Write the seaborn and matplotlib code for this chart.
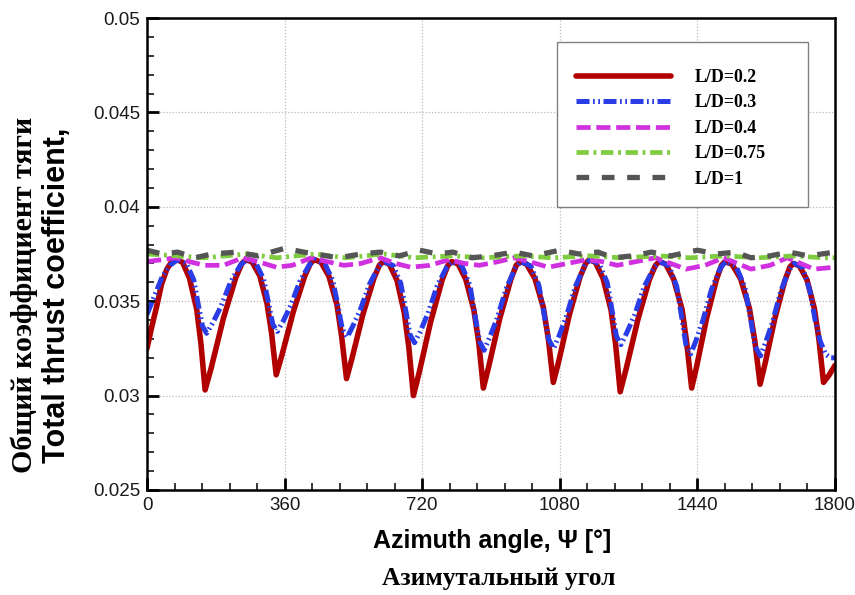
import numpy as np
import pandas as pd
import matplotlib
matplotlib.use("Agg")
import matplotlib.pyplot as plt
from matplotlib.patches import Rectangle
import seaborn as sns

x_02 = [0, 12, 25, 38, 52, 65, 78, 93, 111, 130, 141, 152, 168, 200, 232, 248,
        259, 275, 295, 314, 326, 338, 353, 383, 413, 428,
        438, 455, 476, 497, 509, 522, 536, 565, 594, 608,
        618, 634, 654, 673, 685, 697, 712, 742, 772, 787,
        797, 814, 834, 855, 868, 880, 894, 923, 952, 966,
        976, 993, 1015, 1037, 1050, 1063, 1077, 1105, 1133, 1148,
        1157, 1173, 1193, 1214, 1226, 1238, 1253, 1284, 1314, 1330,
        1340, 1357, 1378, 1400, 1412, 1425, 1438, 1464, 1490, 1503,
        1512, 1530, 1553, 1576, 1590, 1604, 1617, 1643, 1669, 1682,
        1691, 1707, 1727, 1746, 1758, 1770, 1785, 1800]
y_02 = [0.0325, 0.0336, 0.0347, 0.0359, 0.0367, 0.0371, 0.0372, 0.03706, 0.03623, 0.03458, 0.03278, 0.0303, 0.03147, 0.0341, 0.03623, 0.03699,
        0.0372, 0.03708, 0.03635, 0.03488, 0.0333, 0.0311, 0.03214, 0.03446, 0.03635, 0.03702,
        0.0372, 0.03707, 0.03632, 0.03481, 0.03317, 0.0309, 0.03195, 0.03431, 0.03623, 0.03691,
        0.0371, 0.03696, 0.03611, 0.0344, 0.03256, 0.0300, 0.03121, 0.0339, 0.03611, 0.03689,
        0.0371, 0.03697, 0.03616, 0.03455, 0.03281, 0.0304, 0.03154, 0.03409, 0.03616, 0.0369,
        0.0371, 0.03697, 0.0362, 0.03467, 0.0330, 0.0307, 0.0318, 0.03428, 0.03629, 0.03701,
        0.0372, 0.03706, 0.03622, 0.03454, 0.03272, 0.0302, 0.03137, 0.0340, 0.03613, 0.03689,
        0.0371, 0.03697, 0.03616, 0.03455, 0.03281, 0.0304, 0.03154, 0.03409, 0.03616, 0.0369,
        0.0371, 0.03697, 0.03619, 0.03463, 0.03294, 0.0306, 0.03169, 0.03412, 0.0361, 0.03681,
        0.0370, 0.03687, 0.03612, 0.03461, 0.03297, 0.0307, 0.0311, 0.0316]

x_03 = [0, 20, 40, 60, 80, 103, 122, 133, 145, 156, 172, 193, 219, 245,
        261, 285, 305, 317, 329, 341, 356, 376, 400, 425,
        440, 465, 486, 499, 511, 524, 538, 558, 582, 606,
        620, 644, 664, 676, 688, 700, 715, 735, 759, 784,
        799, 824, 845, 857, 870, 882, 896, 916, 940, 964,
        978, 1004, 1025, 1038, 1051, 1064, 1078, 1097, 1121, 1145,
        1159, 1183, 1204, 1216, 1228, 1240, 1255, 1276, 1301, 1327,
        1342, 1366, 1386, 1398, 1410, 1422, 1436, 1454, 1477, 1500,
        1514, 1541, 1564, 1578, 1591, 1605, 1618, 1636, 1658, 1680,
        1693, 1715, 1735, 1748, 1761, 1775, 1788, 1800]
y_03 = [0.0343, 0.0353, 0.0363, 0.0369, 0.0372, 0.0370, 0.03615, 0.03494, 0.03369, 0.0333, 0.03385, 0.0347, 0.03603, 0.03693,
        0.0372, 0.03701, 0.03617, 0.0350, 0.03378, 0.0334, 0.03393, 0.03477, 0.03606, 0.03693,
        0.0372, 0.0370, 0.03609, 0.03482, 0.03351, 0.0331, 0.03366, 0.03454, 0.0359, 0.03682,
        0.0371, 0.03689, 0.03594, 0.03461, 0.03323, 0.0328, 0.0334, 0.03435, 0.03581, 0.0368,
        0.0371, 0.03687, 0.03583, 0.03437, 0.03287, 0.0324, 0.03306, 0.03409, 0.03569, 0.03677,
        0.0371, 0.03687, 0.03586, 0.03443, 0.03296, 0.0325, 0.03316, 0.03419, 0.03579, 0.03687,
        0.0372, 0.03698, 0.03599, 0.03459, 0.03315, 0.0327, 0.03332, 0.03428, 0.03578, 0.03679,
        0.0371, 0.03686, 0.03578, 0.03426, 0.03269, 0.0322, 0.03289, 0.03396, 0.03563, 0.03676,
        0.0371, 0.03685, 0.03575, 0.0342, 0.0326, 0.0321, 0.03279, 0.03386, 0.03553, 0.03666,
        0.0370, 0.0368, 0.0355, 0.0340, 0.0329, 0.0322, 0.0320, 0.0320]

x_04 = [0, 40, 75, 110, 150, 200, 250, 290, 338, 380, 430, 470, 515, 560,
        610, 650, 690, 740, 790, 830, 870, 920, 960, 1000, 1050, 1100,
        1150, 1190, 1230, 1280, 1330, 1370, 1410, 1460, 1508, 1545,
        1580, 1630, 1675, 1710, 1745, 1800]
y_04 = [0.0371, 0.0372, 0.0373, 0.0371, 0.0369, 0.0369, 0.0373, 0.0371, 0.0368, 0.0369, 0.0373, 0.0371, 0.0369, 0.0370,
        0.0373, 0.0370, 0.0368, 0.0369, 0.0372, 0.0370, 0.0369, 0.0371, 0.0373, 0.0371, 0.0368, 0.0370,
        0.0372, 0.0371, 0.0369, 0.0371, 0.0373, 0.0370, 0.0367, 0.0369, 0.0373, 0.0370,
        0.0367, 0.0369, 0.0373, 0.0370, 0.0367, 0.0368]

x_075 = [0, 80, 150, 260, 340, 440, 520, 620, 700, 800, 880, 980, 1060,
         1160, 1240, 1340, 1420, 1510, 1600, 1690, 1770, 1800]
y_075 = [0.0375, 0.0374, 0.0373, 0.0375, 0.0373, 0.0375, 0.0373, 0.0375, 0.0373, 0.0374, 0.0373, 0.0374, 0.0373,
         0.0374, 0.0373, 0.0374, 0.0373, 0.0374, 0.0373, 0.0374, 0.0373, 0.0373]

x_1 = [0, 40, 80, 125, 170, 235, 290, 360, 410, 470, 500, 560, 610, 660, 714,
       760, 800, 850, 900, 960, 1010, 1080, 1130, 1180, 1220, 1270, 1320, 1370,
       1440, 1490, 1540, 1580, 1630, 1680, 1730, 1800]
y_1 = [0.0377, 0.0375, 0.0376, 0.0373, 0.0375, 0.0376, 0.0374, 0.0378, 0.0376, 0.0374, 0.0373, 0.0375, 0.0376, 0.0374, 0.0377,
       0.0375, 0.0376, 0.0373, 0.0374, 0.0376, 0.0374, 0.0377, 0.0375, 0.0376, 0.0373, 0.0374, 0.0376, 0.0374,
       0.0377, 0.0375, 0.0376, 0.0373, 0.0374, 0.0376, 0.0374, 0.0376]

labels = ["L/D=0.2", "L/D=0.3", "L/D=0.4", "L/D=0.75", "L/D=1"]
x_ticks = [0, 360, 720, 1080, 1440, 1800]
y_ticks = [0.025, 0.03, 0.035, 0.04, 0.045, 0.05]
y_tick_labels = ["0.025", "0.03", "0.035", "0.04", "0.045", "0.05"]

# ---------------- figure ----------------
sns.set_style("white")
plt.rcParams["font.family"] = ["Liberation Sans", "DejaVu Sans"]
plt.rcParams["text.color"] = "black"

fig = plt.figure(figsize=(8.55, 5.95), dpi=100)
ax = fig.add_axes([147/855, 1-490/595, 688/855, 472/595])

series = [
    (x_02, y_02, labels[0], "#B00000", 4.0, "-"),
    (x_03, y_03, labels[1], "#2A3CE6", 3.6, (0, (2.6, 0.7, 0.35, 0.7, 0.35, 0.7))),
    (x_04, y_04, labels[2], "#D030E0", 3.4, (0, (3.0, 1.2))),
    (x_075, y_075, labels[3], "#80CC40", 3.4, (0, (2.6, 1.0, 0.6, 1.0))),
    (x_1, y_1, labels[4], "#555555", 3.8, (0, (2.4, 2.4))),
]
for xs, ys, lab, col, lw, ls in series:
    df = pd.DataFrame({"x": xs, "y": ys})
    sns.lineplot(data=df, x="x", y="y", ax=ax, color=col, linewidth=lw,
                 linestyle=ls, label=lab, errorbar=None, sort=False)

ax.set_xlim(0, 1800)
ax.set_ylim(0.025, 0.05)
ax.set_xticks(x_ticks)
ax.set_xticklabels([str(t) for t in x_ticks])
ax.set_yticks(y_ticks)
ax.set_yticklabels(y_tick_labels)
ax.set_xticks(np.arange(0, 1801, 72), minor=True)
ax.set_yticks(np.arange(0.025, 0.0501, 0.001), minor=True)
ax.tick_params(axis="both", which="major", direction="in", length=8.5, width=2,
               labelsize=13.5, colors="black", bottom=True, left=True)
ax.tick_params(axis="both", which="minor", direction="in", length=5, width=1.3,
               bottom=True, left=True)
ax.tick_params(axis="y", which="major", pad=5)
ax.tick_params(axis="x", which="major", pad=5)
for lab in ax.get_xticklabels() + ax.get_yticklabels():
    lab.set_color("#1a1a1a")

ax.grid(True, which="major", color="#BBBBBB", linestyle=(0, (1, 1.5)), linewidth=0.9)
for s in ax.spines.values():
    s.set_visible(True)
    s.set_color("black")
    s.set_linewidth(1.8)
ax.set_xlabel("")
ax.set_ylabel("")

# legend box
ax.add_patch(Rectangle((0.5959, 0.5996), 0.9608-0.5959, 0.9492-0.5996,
                       transform=ax.transAxes, facecolor="white",
                       edgecolor="#808080", linewidth=1.0, zorder=4))
leg = ax.legend(loc="upper left", bbox_to_anchor=(0.6239, 0.892), borderaxespad=0,
                frameon=False,
                prop={"family": ["Liberation Serif", "DejaVu Serif"], "weight": "bold", "size": 12.9},
                handlelength=5.3, handletextpad=1.3, labelspacing=0.47, borderpad=0)
leg.set_zorder(5)

fig.text(492/855, 1-541/595, "Azimuth angle, \u03A8 [\u00B0]", ha="center", va="center",
         fontsize=18, fontweight="bold", family=["Liberation Sans", "DejaVu Sans"])
fig.text(499/855, 1-578/595, "Азимутальный угол", ha="center", va="center",
         fontsize=18.4, fontweight="bold", family=["Liberation Serif", "DejaVu Serif"])
fig.text(24/855, 1-295/595, "Общий коэффициент тяги", ha="center", va="center",
         rotation=90, fontsize=21.5, fontweight="bold", family=["Liberation Serif", "DejaVu Serif"])
fig.text(57/855, 1-295/595, "Total thrust coefficient,", ha="center", va="center",
         rotation=90, fontsize=22, fontweight="bold", family=["Liberation Sans", "DejaVu Sans"])

fig.savefig("out.png", dpi=100, facecolor="white")
